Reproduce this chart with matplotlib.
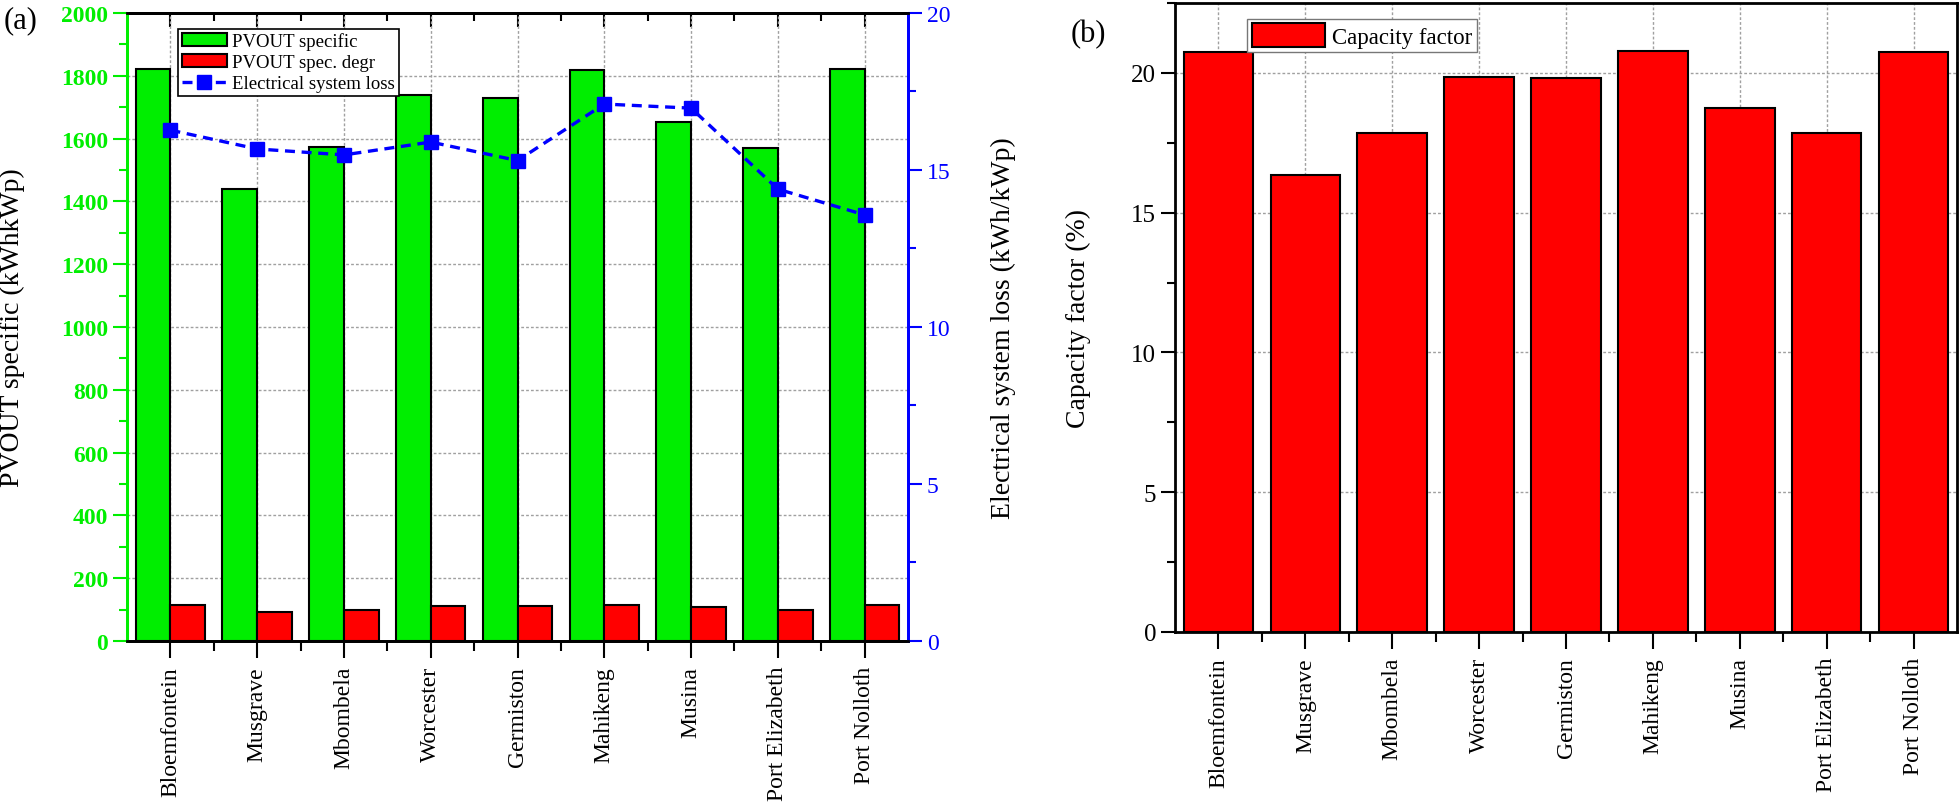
import numpy as np
import matplotlib
matplotlib.use('Agg')
import matplotlib.pyplot as plt
from matplotlib.ticker import MultipleLocator, FixedLocator

plt.rcParams['font.family'] = ['Liberation Serif', 'DejaVu Serif']

# datos
cities = ['Bloemfontein', 'Musgrave', 'Mbombela', 'Worcester', 'Germiston',
          'Mahikeng', 'Musina', 'Port Elizabeth', 'Port Nolloth']
pvout_specific = [1822, 1439, 1573, 1739, 1729, 1820, 1653, 1570, 1822]
pvout_degr = [115, 93, 100, 112, 112, 115, 107, 100, 115]
elec_loss = [16.27, 15.67, 15.48, 15.89, 15.30, 17.10, 16.97, 14.39, 13.57]
capacity_factor = [20.75, 16.36, 17.86, 19.86, 19.8, 20.78, 18.75, 17.86, 20.75]

GREEN = '#00ee00'
BLUE = '#0000ff'
RED = '#ff0000'
GRID = dict(color='#a0a0a0', linestyle=(0, (2, 1.5)), linewidth=1.0)

fig = plt.figure(figsize=(19.6, 8.04), dpi=100)
x = np.arange(len(cities))

# ---------- panel (a) ----------
ax = fig.add_axes([0.0648, 0.2015, 0.3985, 0.7811])
ax.set_axisbelow(True)
b1 = ax.bar(x - 0.2, pvout_specific, width=0.4, color=GREEN, edgecolor='black',
            linewidth=1.5, label='PVOUT specific')
b2 = ax.bar(x + 0.2, pvout_degr, width=0.4, color=RED, edgecolor='black',
            linewidth=1.5, label='PVOUT spec. degr')
ax.set_xlim(-0.5, 8.5)
ax.set_ylim(0, 2000)
ax.yaxis.set_major_locator(MultipleLocator(200))
ax.yaxis.set_minor_locator(MultipleLocator(100))
ax.set_xticks(x)
ax.set_xticklabels(cities, rotation=90, fontsize=17)
ax.xaxis.set_minor_locator(FixedLocator(x[:-1] + 0.5))
ax.grid(True, which='major', **GRID)
ax.tick_params(axis='y', which='major', colors=GREEN, labelsize=17, length=10, width=1.5)
ax.tick_params(axis='y', which='minor', colors=GREEN, length=6, width=1.5)
for lab in ax.get_yticklabels():
    lab.set_fontweight('bold')
ax.tick_params(axis='x', which='major', length=12, width=1.5, direction='out', pad=6)
ax.tick_params(axis='x', which='minor', length=7, width=1.5, direction='out')
ax.spines['left'].set_color(GREEN)
ax.spines['right'].set_color(BLUE)
for s in ax.spines.values():
    s.set_linewidth(2)
ax.set_ylabel('PVOUT specific (kWhkWp)', fontsize=20)
ax.yaxis.set_label_coords(-0.131, 0.5)

# eje superior con ticks hacia dentro
top = ax.secondary_xaxis('top')
top.set_xticks(x)
top.xaxis.set_minor_locator(FixedLocator(x[:-1] + 0.5))
top.tick_params(axis='x', which='major', direction='in', length=10, width=1.5, labeltop=False)
top.tick_params(axis='x', which='minor', direction='in', length=6, width=1.5)
top.spines['top'].set_linewidth(2)

ax2 = ax.twinx()
l1, = ax2.plot(x, elec_loss, color=BLUE, linestyle='--', dashes=(3, 2), linewidth=2.4,
               marker='s', markersize=10, label='Electrical system loss')
ax2.set_ylim(0, 20)
ax2.yaxis.set_major_locator(MultipleLocator(5))
ax2.yaxis.set_minor_locator(MultipleLocator(2.5))
ax2.tick_params(axis='y', which='major', colors=BLUE, labelsize=17, length=10, width=1.5)
ax2.tick_params(axis='y', which='minor', colors=BLUE, length=6, width=1.5)
ax2.spines['right'].set_color(BLUE)
ax2.spines['left'].set_color(GREEN)
for s in ax2.spines.values():
    s.set_linewidth(2)
ax2.set_ylabel('Electrical system loss (kWh/kWp)', fontsize=20)
ax2.yaxis.set_label_coords(1.106, 0.5)

leg = ax.legend([b1, b2, l1], ['PVOUT specific', 'PVOUT spec. degr', 'Electrical system loss'],
                loc='upper left', bbox_to_anchor=(0.065, 0.975), fontsize=13.5,
                fancybox=False, framealpha=1, edgecolor='black', borderpad=0.2,
                labelspacing=0.2, handlelength=2.4, handletextpad=0.3, borderaxespad=0)
leg.get_frame().set_linewidth(1.2)
leg.set_zorder(10)

fig.text(0.002, 0.992, '(a)', fontsize=22, va='top', ha='left')

# ---------- panel (b) ----------
bx = fig.add_axes([0.5995, 0.2127, 0.399, 0.7823])
bx.set_axisbelow(True)
bars = bx.bar(x, capacity_factor, width=0.8, color=RED, edgecolor='black', linewidth=1.5,
              label='Capacity factor')
bx.set_xlim(-0.5, 8.5)
bx.set_ylim(0, 22.5)
bx.yaxis.set_major_locator(MultipleLocator(5))
bx.yaxis.set_minor_locator(MultipleLocator(2.5))
bx.set_xticks(x)
bx.set_xticklabels(cities, rotation=90, fontsize=17)
bx.xaxis.set_minor_locator(FixedLocator(x[:-1] + 0.5))
bx.grid(True, which='major', **GRID)
bx.tick_params(axis='y', which='major', labelsize=18, length=10, width=1.5)
bx.tick_params(axis='y', which='minor', length=6, width=1.5)
bx.tick_params(axis='x', which='major', length=12, width=1.5, pad=6)
bx.tick_params(axis='x', which='minor', length=7, width=1.5)
for s in bx.spines.values():
    s.set_linewidth(2)
bx.set_ylabel('Capacity factor (%)', fontsize=20)
bx.yaxis.set_label_coords(-0.107, 0.5)
leg2 = bx.legend(loc='upper left', bbox_to_anchor=(0.092, 0.975), fontsize=16.5,
                 fancybox=False, framealpha=1, edgecolor='#777777', borderpad=0.2,
                 handlelength=3.2, handleheight=1.2, handletextpad=0.3, borderaxespad=0)
leg2.set_zorder(10)

fig.text(0.546, 0.975, '(b)', fontsize=22, va='top', ha='left')

fig.savefig('out.png', dpi=100)
